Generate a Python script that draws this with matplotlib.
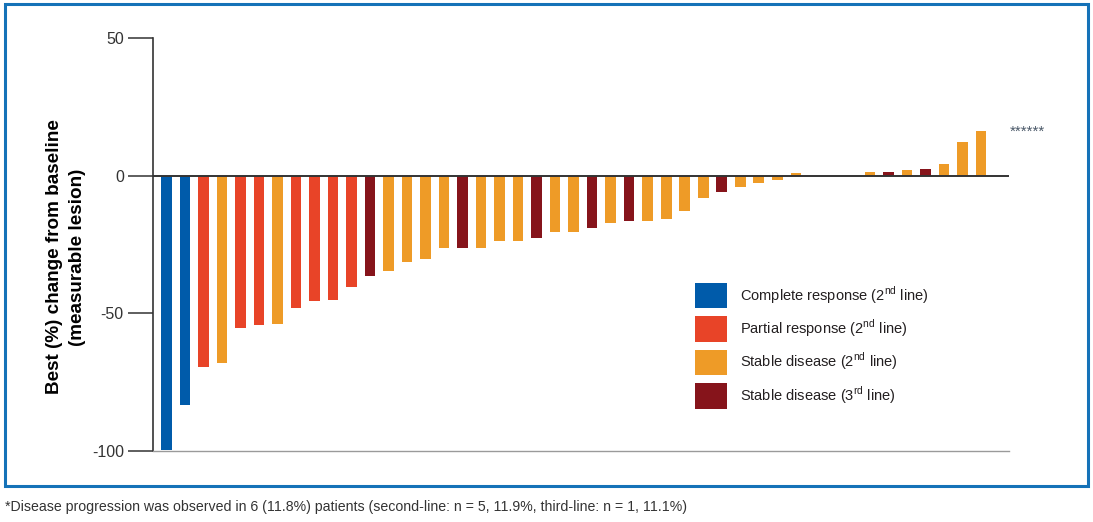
import matplotlib
matplotlib.use("Agg")
import matplotlib.pyplot as plt
from matplotlib.patches import Patch, Rectangle

plt.rcParams['font.family'] = ['Liberation Sans', 'DejaVu Sans']
plt.rcParams['mathtext.fontset'] = 'custom'
plt.rcParams['mathtext.rm'] = 'Liberation Sans'

# best % change per patient, sorted (waterfall); 0 = no change
change = [-99.6, -83.2, -69.6, -68.1, -55.4, -54.2, -53.7, -48.2, -45.7, -45.1,
          -40.5, -36.3, -34.8, -31.5, -30.3, -26.4, -26.4, -26.4, -23.8, -23.8,
          -22.6, -20.4, -20.4, -19.1, -17.3, -16.6, -16.6, -15.7, -12.7, -8.1,
          -5.9, -4.2, -2.5, -1.6, 1.0, 0.0, 0.0, 0.0, 1.3, 1.4,
          1.9, 2.3, 4.1, 12.1, 16.4]
# CR = complete response, PR = partial, SD2 / SD3 = stable disease 2nd / 3rd line
response = ['CR', 'CR', 'PR', 'SD2', 'PR', 'PR', 'SD2', 'PR', 'PR', 'PR',
            'PR', 'SD3', 'SD2', 'SD2', 'SD2', 'SD2', 'SD3', 'SD2', 'SD2', 'SD2',
            'SD3', 'SD2', 'SD2', 'SD3', 'SD2', 'SD3', 'SD2', 'SD2', 'SD2', 'SD2',
            'SD3', 'SD2', 'SD2', 'SD2', 'SD2', 'SD2', 'SD2', 'SD2', 'SD2', 'SD3',
            'SD2', 'SD3', 'SD2', 'SD2', 'SD2']

colors = {'CR': '#005BAA', 'PR': '#E84428', 'SD2': '#EE9B27', 'SD3': '#86141B'}
labels = {'CR': 'Complete response (2$^{\\mathrm{nd}}$ line)',
          'PR': 'Partial response (2$^{\\mathrm{nd}}$ line)',
          'SD2': 'Stable disease (2$^{\\mathrm{nd}}$ line)',
          'SD3': 'Stable disease (3$^{\\mathrm{rd}}$ line)'}

yticks = [-100, -50, 0, 50]
ytick_labels = ['-100', '-50', '0', '50']

W, H = 1093, 522
fig = plt.figure(figsize=(W / 100, H / 100), dpi=100)
ax = fig.add_axes([153 / W, 1 - 451 / H, (1009 - 153) / W, (451 - 38) / H])

x = list(range(len(change)))
ax.bar(x, change, width=0.57, color=[colors[r] for r in response], zorder=2)
ax.axhline(0, color='#333333', lw=1.4, zorder=3)

ax.set_xlim(-0.73, 45.52)
ax.set_ylim(-100, 50)
ax.set_xticks([])
ax.set_yticks(yticks)
ax.set_yticklabels(ytick_labels)
ax.tick_params(axis='y', direction='out', length=18, width=1.1, color='#333333',
               labelsize=11.5, labelcolor='#333333', pad=3)
for s in ['top', 'right']:
    ax.spines[s].set_visible(False)
ax.spines['left'].set_color('#333333')
ax.spines['left'].set_linewidth(1.2)
ax.spines['bottom'].set_color('#9a9a9a')
ax.spines['bottom'].set_linewidth(1.0)

# progressive disease patients marked with asterisks
ax.text(45.55, 16.0, '******', fontsize=11, color='#4a5868', va='center', ha='left',
        clip_on=False)

fig.text(66 / W, 1 - 257 / H, 'Best (%) change from baseline\n(measurable lesion)',
         rotation=90, ha='center', va='center', fontsize=13.6, fontweight='bold',
         multialignment='center', linespacing=1.45, color='black')

handles = [Patch(facecolor=colors[k], edgecolor='none', label=labels[k])
           for k in ['CR', 'PR', 'SD2', 'SD3']]
fig.legend(handles=handles, loc='upper left', bbox_to_anchor=(695 / W, 1 - 283 / H),
           frameon=False, fontsize=10.5, handlelength=2.2, handleheight=2.3,
           handletextpad=0.9, labelspacing=0.55, borderpad=0, borderaxespad=0,
           labelcolor='#231F20')

fig.text(5 / W, 1 - 507 / H,
         '*Disease progression was observed in 6 (11.8%) patients '
         '(second-line: n = 5, 11.9%, third-line: n = 1, 11.1%)',
         fontsize=10.2, color='#333333', ha='left', va='center')

fig.patches.append(Rectangle((5 / W, 1 - 486 / H), 1083 / W, 482 / H,
                             transform=fig.transFigure, fill=False,
                             edgecolor='#1572B8', lw=2.2))

fig.savefig('out.png', dpi=100)
